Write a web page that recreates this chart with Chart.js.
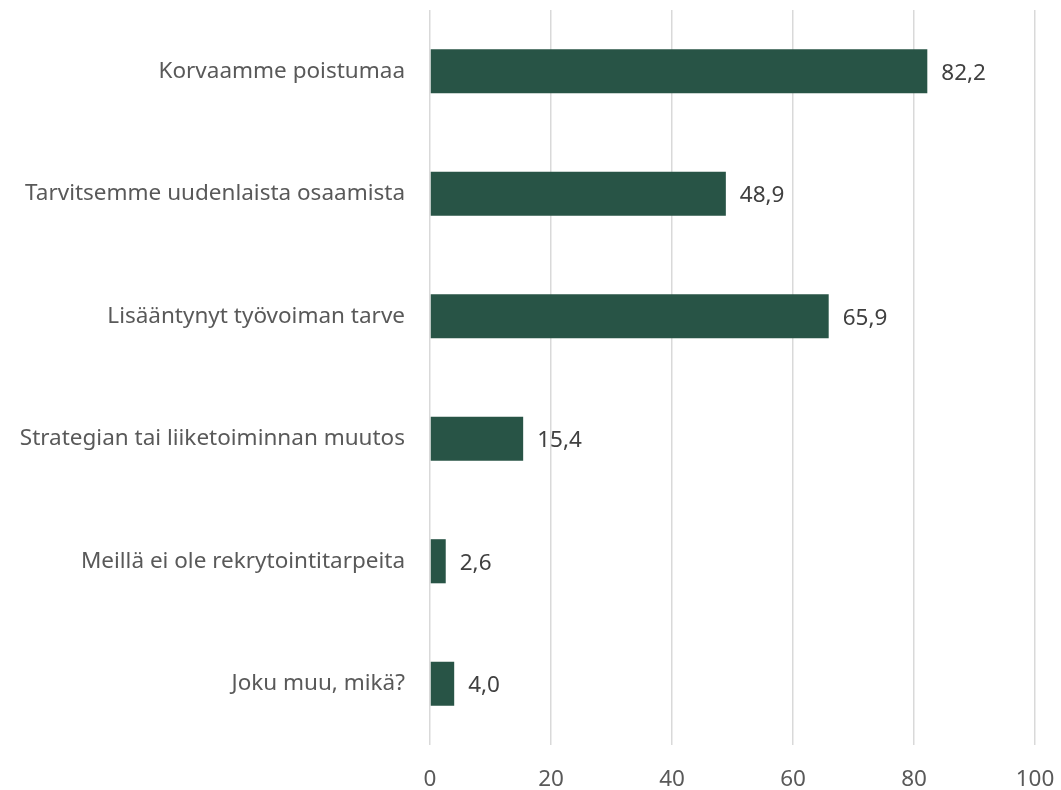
<!DOCTYPE html>
<html>
<head>
<meta charset="utf-8">
<script src="https://cdn.jsdelivr.net/npm/chart.js@4"></script>
<style>
  html, body { margin: 0; padding: 0; background: #fff; }
  #wrap { width: 1061px; height: 790px; }
</style>
</head>
<body>
<div id="wrap"><canvas id="chart" width="1061" height="790"></canvas></div>
<script>
// Rekrytointitarpeen syyt (%)
const categories = [
  'Korvaamme poistumaa',
  'Tarvitsemme uudenlaista osaamista',
  'Lisääntynyt työvoiman tarve',
  'Strategian tai liiketoiminnan muutos',
  'Meillä ei ole rekrytointitarpeita',
  'Joku muu, mikä?'
];
const values = [82.2, 48.9, 65.9, 15.4, 2.6, 4.0];
const xTicks = [0, 20, 40, 60, 80, 100];

const FONT = "'Noto Sans', 'Open Sans', sans-serif";

// simple value labels at the end of each bar
const valueLabels = {
  id: 'valueLabels',
  afterDatasetsDraw(chart) {
    const ctx = chart.ctx;
    const meta = chart.getDatasetMeta(0);
    ctx.save();
    ctx.font = '22.5px ' + FONT;
    ctx.fillStyle = '#404040';
    ctx.textAlign = 'left';
    ctx.textBaseline = 'middle';
    meta.data.forEach((bar, i) => {
      const txt = values[i].toFixed(1).replace('.', ',');
      ctx.fillText(txt, bar.x + 14, bar.y + 2);
    });
    ctx.restore();
  }
};

new Chart(document.getElementById('chart').getContext('2d'), {
  type: 'bar',
  data: {
    labels: categories,
    datasets: [{
      data: values,
      backgroundColor: '#285446',
      borderWidth: 0,
      barPercentage: 0.36,
      categoryPercentage: 1
    }]
  },
  options: {
    indexAxis: 'y',
    responsive: false,
    animation: false,
    layout: { padding: { top: 10, right: 26, left: 0, bottom: 0 } },
    plugins: {
      legend: { display: false },
      tooltip: { enabled: false }
    },
    scales: {
      x: {
        min: 0,
        max: 100,
        afterBuildTicks: scale => { scale.ticks = xTicks.map(v => ({ value: v })); },
        afterFit: scale => {
          scale.height = 45;
          scale.paddingLeft = 0;
          scale.paddingRight = 0;
        },
        grid: { color: '#d9d9d9', lineWidth: 1.5, drawTicks: false },
        border: { display: false },
        ticks: { color: '#595959', font: { family: FONT, size: 22.5 }, padding: 21 }
      },
      y: {
        afterFit: scale => {
          scale.width = 430;
          scale.paddingTop = 0;
          scale.paddingBottom = 0;
        },
        grid: { display: false },
        border: { display: false },
        ticks: { color: '#595959', font: { family: FONT, size: 22.5 }, padding: 17 }
      }
    }
  },
  plugins: [valueLabels]
});
</script>
</body>
</html>
